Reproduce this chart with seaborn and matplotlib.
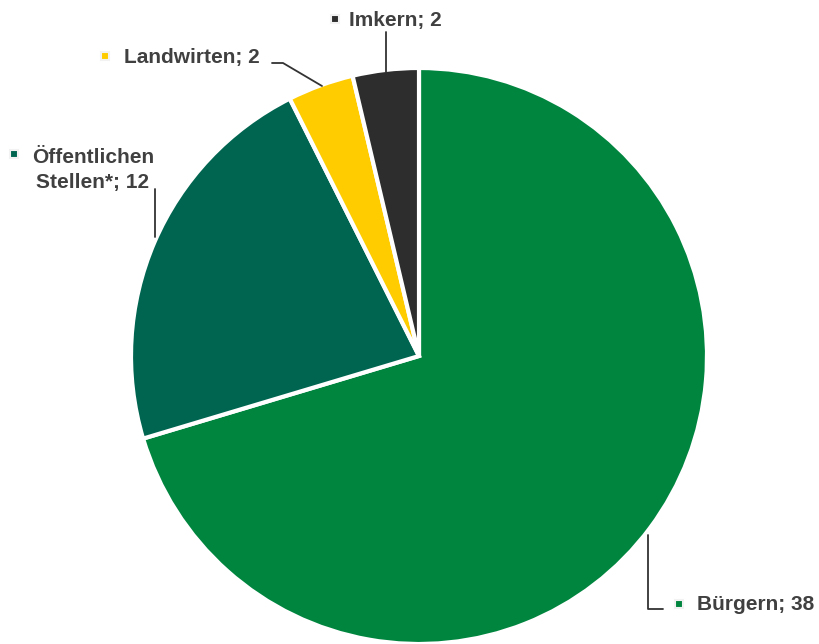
# Verteilung der Meldungen nach Gruppe
import matplotlib
matplotlib.use("Agg")
import matplotlib.pyplot as plt
import seaborn as sns

# Daten
groups = ["Bürgern", "Öffentlichen\nStellen*", "Landwirten", "Imkern"]
counts = [38, 12, 2, 2]
colors = sns.color_palette(["#00853F", "#006550", "#FFCC00", "#2D2D2D"])

sns.set_theme(style="white")
plt.rcParams["font.family"] = ["Liberation Sans", "DejaVu Sans"]

W, H = 819, 644
fig = plt.figure(figsize=(W / 100, H / 100), dpi=100)
ax = fig.add_axes([0, 0, 1, 1])

# Kreis: Mitte bei (419, 356) px, Radius 288 px
cx, cy, r = 419, H - 356, 288
ax.pie(counts, colors=colors, startangle=90, counterclock=False,
       center=(cx, cy), radius=r, frame=True,
       wedgeprops=dict(edgecolor="white", linewidth=3))
ax.set_xlim(0, W)
ax.set_ylim(0, H)
ax.set_aspect("equal")
ax.axis("off")

txt_color = "#404040"
label_pos = {  # (marker x, text x, text y, ausrichtung) in Pixel
    "Bürgern": (679, 697, 605, "left"),
    "Öffentlichen\nStellen*": (14, 93, 170, "center"),
    "Landwirten": (105, 124, 57, "left"),
    "Imkern": (335, 349, 20, "left"),
}
marker_y = {"Bürgern": 604, "Öffentlichen\nStellen*": 154, "Landwirten": 56, "Imkern": 19}

for g, n, c in zip(groups, counts, colors):
    mx, tx, ty, ha = label_pos[g]
    ax.text(tx, H - ty, f"{g}; {n}", ha=ha, va="center", fontsize=15,
            fontweight="bold", color=txt_color, linespacing=1.4)
    ax.plot([mx], [H - marker_y[g]], marker="s", markersize=6, color=c,
            markeredgecolor="#F2F2F2", markeredgewidth=1.5)

# Führungslinien
lines = [
    [(386, 32), (386, 72)],
    [(272, 63), (283, 63), (322, 86)],
    [(155, 189), (155, 237)],
    [(648, 535), (648, 609), (663, 609)],
]
for pts in lines:
    xs = [p[0] for p in pts]
    ys = [H - p[1] for p in pts]
    ax.plot(xs, ys, color="#333333", linewidth=1.3)

fig.savefig("out.png", dpi=100)
